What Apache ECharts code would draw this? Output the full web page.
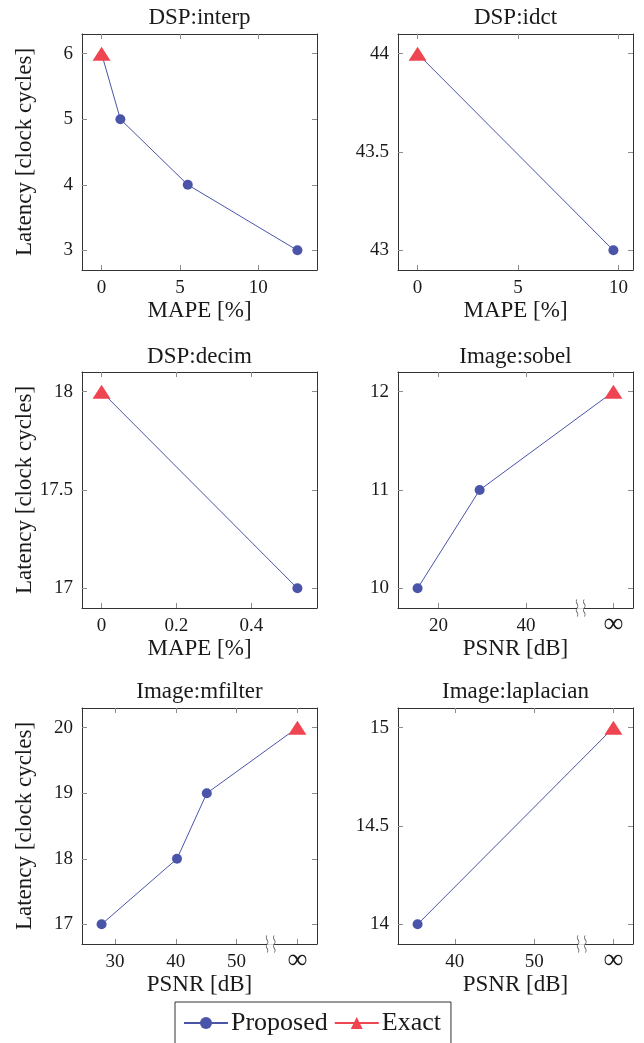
<!DOCTYPE html>
<html>
<head>
<meta charset="utf-8">
<script src="https://cdn.jsdelivr.net/npm/echarts@6/dist/echarts.min.js"></script>
<style>
  html, body { margin: 0; padding: 0; background: #fff; }
  #chart { width: 644px; height: 1043px; }
</style>
</head>
<body>
<div id="chart"></div>
<script>
// titles / axis names
const titles = ['DSP:interp', 'DSP:idct', 'DSP:decim', 'Image:sobel', 'Image:mfilter', 'Image:laplacian'];
const xNames = ['MAPE [%]', 'MAPE [%]', 'MAPE [%]', 'PSNR [dB]', 'PSNR [dB]', 'PSNR [dB]'];
const yName = 'Latency [clock cycles]';
const INF = 60; // PSNR position drawn as "∞"

// data, one pair of arrays per panel
const interpX = [0, 1.2, 5.5, 12.5];
const interpY = [6, 5, 4, 3];
const idctX = [0, 9.75];
const idctY = [44, 43];
const decimX = [0, 0.523];
const decimY = [18, 17];
const sobelX = [15.2, 29.4, INF];
const sobelY = [10, 11, 12];
const mfilterX = [27.8, 40.2, 45.1, INF];
const mfilterY = [17, 18, 19, 20];
const laplacianX = [35.3, INF];
const laplacianY = [14, 15];

// index of the exact (non-approximated) point in each panel
const exactIdx = [0, 0, 0, 2, 3, 1];

// tick labels
const xTicks = [[0, 5, 10], [0, 5, 10], [0, 0.2, 0.4], [20, 40, INF], [30, 40, 50, INF], [40, 50, INF]];
const yTicks = [[3, 4, 5, 6], [43, 43.5, 44], [17, 17.5, 18], [10, 11, 12], [17, 18, 19, 20], [14, 14.5, 15]];

// where the axis-break squiggle sits on the PSNR axes
const breakX = [null, null, null, 52.5, 55.6, 56];

const allX = [interpX, idctX, decimX, sobelX, mfilterX, laplacianX];
const allY = [interpY, idctY, decimY, sobelY, mfilterY, laplacianY];

const BLUE = '#4a55a9';
const RED = '#ef4550';
const FONT = '"Liberation Serif", "Times New Roman", serif';
const FRAME = '#333';
const TICK = '#8c8c8c';

const colLeft = [82, 398];
const rowTop = [34, 372, 708];
const W = 235, H = 236;
const titleTop = [6, 345, 680];

// pgfplots-like 10% enlargement of limits
function range(arr) {
  const lo = Math.min(...arr), hi = Math.max(...arr);
  const pad = (hi - lo) * 0.1;
  return [lo - pad, hi + pad];
}

const chart = echarts.init(document.getElementById('chart'));

const grid = [], xAxis = [], yAxis = [], series = [], title = [];

titles.forEach((t, i) => {
  const col = i % 2, row = Math.floor(i / 2);
  const isImage = i >= 3;
  grid.push({ left: colLeft[col], top: rowTop[row], width: W, height: H, containLabel: false });
  title.push({
    text: t, left: colLeft[col] + W / 2, top: titleTop[row], textAlign: 'center', padding: 0,
    textStyle: { fontFamily: FONT, fontWeight: 'normal', fontSize: 23, color: '#1a1a1a' }
  });

  const [xmin, xmax] = range(allX[i]);
  const [ymin, ymax] = range(allY[i]);

  const tickBase = { show: true, inside: true, length: 5, lineStyle: { color: TICK, width: 1 } };

  // bottom x axis with labels
  xAxis.push({
    type: 'value', gridIndex: i, position: 'bottom', min: xmin, max: xmax,
    name: xNames[i], nameLocation: 'middle', nameGap: 29, nameMoveOverlap: false,
    nameTextStyle: { fontFamily: FONT, fontSize: 23, color: '#1a1a1a' },
    axisLine: { show: true, onZero: false, lineStyle: { color: FRAME, width: 1 } },
    axisTick: Object.assign({ customValues: xTicks[i] }, tickBase),
    axisLabel: {
      customValues: xTicks[i], margin: 8, fontFamily: FONT, fontSize: 19, lineHeight: 20, color: '#1a1a1a',
      formatter: (v) => (isImage && v === INF) ? '{inf|∞}' : String(v),
      rich: { inf: { fontFamily: FONT, fontSize: 28, lineHeight: 20, color: '#1a1a1a', padding: [0, 0, 3, 0] } }
    },
    splitLine: { show: false }
  });
  // top mirror
  xAxis.push({
    type: 'value', gridIndex: i, position: 'top', min: xmin, max: xmax,
    axisLine: { show: true, onZero: false, lineStyle: { color: FRAME, width: 1 } },
    axisTick: Object.assign({ customValues: xTicks[i] }, tickBase),
    axisLabel: { show: false }, splitLine: { show: false }
  });
  // left y axis with labels
  yAxis.push({
    type: 'value', gridIndex: i, position: 'left', min: ymin, max: ymax,
    name: col === 0 ? yName : '', nameLocation: 'middle', nameGap: 46, nameMoveOverlap: false,
    nameTextStyle: { fontFamily: FONT, fontSize: 23, color: '#1a1a1a' },
    axisLine: { show: true, onZero: false, lineStyle: { color: FRAME, width: 1 } },
    axisTick: Object.assign({ customValues: yTicks[i] }, tickBase),
    axisLabel: {
      customValues: yTicks[i], margin: 9, fontFamily: FONT, fontSize: 19, color: '#1a1a1a',
      formatter: (v) => String(v)
    },
    splitLine: { show: false }
  });
  // right mirror
  yAxis.push({
    type: 'value', gridIndex: i, position: 'right', min: ymin, max: ymax,
    axisLine: { show: true, onZero: false, lineStyle: { color: FRAME, width: 1 } },
    axisTick: Object.assign({ customValues: yTicks[i] }, tickBase),
    axisLabel: { show: false }, splitLine: { show: false }
  });

  const xi = i * 2, yi = i * 2;
  const pts = allX[i].map((x, k) => k === exactIdx[i]
    ? { value: [x, allY[i][k]], symbol: 'none' }
    : [x, allY[i][k]]);

  series.push({
    name: 'Proposed', type: 'line', xAxisIndex: xi, yAxisIndex: yi,
    data: pts, symbol: 'circle', symbolSize: 10, clip: false,
    lineStyle: { color: BLUE, width: 1 }, itemStyle: { color: BLUE },
    z: 3
  });
  series.push({
    name: 'Exact', type: 'line', xAxisIndex: xi, yAxisIndex: yi,
    data: [[allX[i][exactIdx[i]], allY[i][exactIdx[i]]]],
    symbol: 'triangle', symbolSize: [18, 14], clip: false,
    lineStyle: { color: RED, width: 1 }, itemStyle: { color: RED },
    z: 4
  });

  if (breakX[i] !== null) {
    series.push({
      type: 'scatter', xAxisIndex: xi, yAxisIndex: yi, clip: false, silent: true,
      data: [[breakX[i], ymin]], symbol: 'rect', symbolSize: [7, 3],
      itemStyle: { color: '#fff' }, z: 5
    });
    series.push({
      type: 'scatter', xAxisIndex: xi, yAxisIndex: yi, clip: false, silent: true,
      data: [[breakX[i], ymin]],
      symbol: 'path://M3,0 C0,4 6,6 3,10 C0,14 6,16 3,20 M10,0 C7,4 13,6 10,10 C7,14 13,16 10,20',
      symbolSize: [9, 17],
      itemStyle: { color: 'transparent', borderColor: FRAME, borderWidth: 1 }, z: 6
    });
  }
});

chart.setOption({
  animation: false,
  backgroundColor: '#fff',
  title: title,
  grid: grid,
  xAxis: xAxis,
  yAxis: yAxis,
  legend: {
    data: ['Proposed', 'Exact'],
    left: 175, top: 1002,
    orient: 'horizontal',
    itemWidth: 44, itemHeight: 15, itemGap: 6,
    padding: [8, 10, 8, 8],
    borderColor: FRAME, borderWidth: 1,
    textStyle: { fontFamily: FONT, fontSize: 26, color: '#1a1a1a', padding: [0, 0, 0, -2] }
  },
  series: series
});
</script>
</body>
</html>
